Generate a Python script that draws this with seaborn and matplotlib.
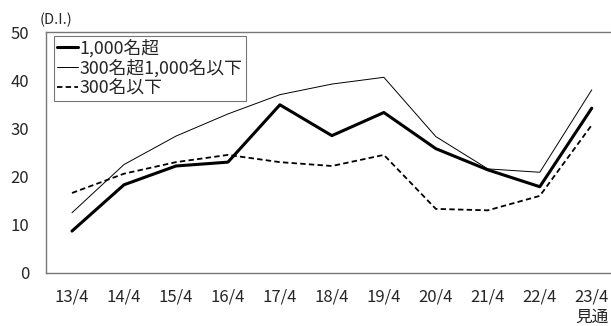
import matplotlib
matplotlib.use("Agg")
import matplotlib.pyplot as plt
import seaborn as sns
import pandas as pd

# Survey periods and D.I. values by company size
periods = ["13/4", "14/4", "15/4", "16/4", "17/4", "18/4", "19/4", "20/4", "21/4", "22/4", "23/4\n見通"]
large = [8.7, 18.3, 22.2, 23.0, 34.9, 28.5, 33.3, 25.8, 21.4, 17.9, 34.2]
medium = [12.5, 22.5, 28.4, 33.0, 37.0, 39.2, 40.6, 28.3, 21.6, 20.9, 38.0]
small = [16.6, 20.6, 23.0, 24.5, 23.0, 22.2, 24.5, 13.3, 13.0, 16.0, 30.7]
series_names = ["1,000名超", "300名超1,000名以下", "300名以下"]
yticks = [0, 10, 20, 30, 40, 50]

sns.set_style("white")
plt.rcParams["font.family"] = ["Noto Sans CJK JP", "DejaVu Sans"]

rows = []
for name, vals in zip(series_names, [large, medium, small]):
    for i, v in enumerate(vals):
        rows.append({"x": i, "period": periods[i], "value": v, "series": name})
df = pd.DataFrame(rows)

fig = plt.figure(figsize=(6.11, 3.26), dpi=100)
ax = fig.add_axes([0.0753, 0.1626, 0.9247, 0.7392])

styles = {
    series_names[0]: dict(lw=2.2, ls="-"),
    series_names[1]: dict(lw=0.7, ls="-"),
    series_names[2]: dict(lw=1.3, ls=(0, (3, 1.8))),
}
for name in series_names:
    sub = df[df["series"] == name]
    sns.lineplot(data=sub, x="x", y="value", ax=ax, color="black",
                 lw=styles[name]["lw"], linestyle=styles[name]["ls"], label=name)

ax.set_xlim(-0.5, 10.37)
ax.set_ylim(0, 50)
ax.set_yticks(yticks)
ax.set_yticklabels([str(t) for t in yticks], fontsize=12)
ax.set_xticks(range(len(periods)))
ax.set_xticklabels(periods, fontsize=12, linespacing=1.25, va="top")
ax.tick_params(axis="y", length=0, pad=12)
ax.tick_params(axis="x", length=0, pad=11)
ax.set_xlabel("")
ax.set_ylabel("")

for side in ["left", "top", "bottom"]:
    ax.spines[side].set_color("#777777")
    ax.spines[side].set_linewidth(1.0)
ax.spines["right"].set_visible(False)

ax.text(-0.012, 1.02, "(D.I.)", transform=ax.transAxes, fontsize=10.5,
        ha="left", va="bottom")

leg = ax.legend(loc="upper left", bbox_to_anchor=(0.014, 0.985), fontsize=12.8,
                frameon=True, fancybox=False, edgecolor="#555555",
                handlelength=1.15, handletextpad=0.1, borderpad=0.2,
                labelspacing=0.1, borderaxespad=0)
leg.get_frame().set_linewidth(0.8)

fig.savefig("out.png", dpi=100)
